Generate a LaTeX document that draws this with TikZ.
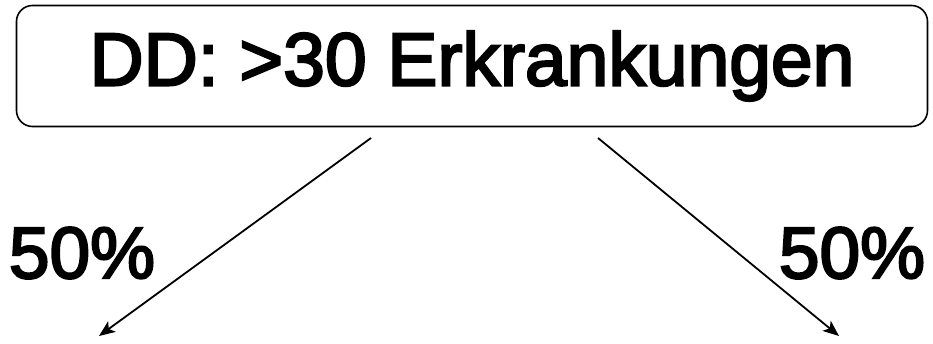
\documentclass[tikz,border=0pt]{standalone}
\usepackage{fontspec}
\setmainfont[FakeBold=3]{Liberation Sans}
\usetikzlibrary{arrows.meta}
\begin{document}
\begin{tikzpicture}[x=1pt,y=-1pt,
  title/.style={draw=black,line width=1.6pt,rounded corners=16pt,minimum width=911pt,minimum height=121pt,inner sep=0pt,font=\fontsize{75}{80}\selectfont},
  pct/.style={inner sep=0pt,font=\fontsize{73}{78}\selectfont},
  conn/.style={line width=1.8pt,-{Stealth[length=16pt,width=13pt,inset=4pt]}}]
\useasboundingbox (0,0) rectangle (933,343);
\node[title] (t) at (472,66) {DD: >30 Erkrankungen};
\node[pct] (l) at (82,253) {50\%};
\node[pct] (r) at (852,253) {50\%};
\coordinate (ls) at (371,138);
\coordinate (le) at (99,336);
\coordinate (rs) at (598,138);
\coordinate (re) at (839,336);
\draw[conn] (ls) -- (le);
\draw[conn] (rs) -- (re);
\end{tikzpicture}
\end{document}
